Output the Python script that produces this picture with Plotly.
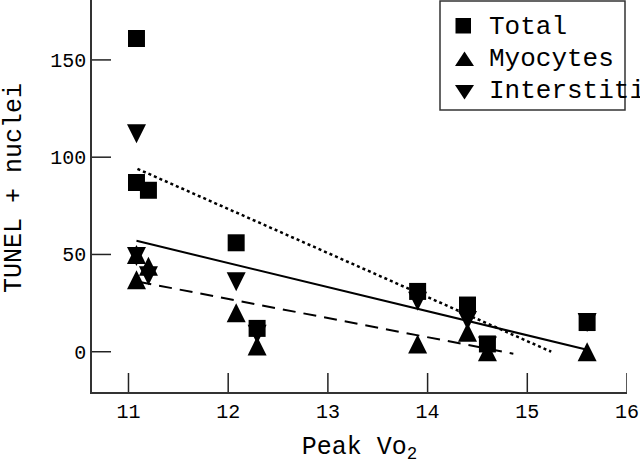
import plotly.graph_objects as go

# ---- data ----
peak_vo2 = [11.08, 11.08, 11.2, 12.08, 12.29, 13.9, 14.4, 14.6, 15.6]
total = [161, 87, 83, 56, 12, 31, 24, 4, 15]
myocytes = [50, 37, 44, 20, 3, 4, 10, 0, 0]
interstitium = [112, 49, 39, 36, 9, 26, 16, 3, 15]

# regression line end points
solid_x = [11.08, 15.6]
solid_y = [57, 1]
dashed_x = [11.1, 14.86]
dashed_y = [36, -1]
dotted_x = [11.09, 15.24]
dotted_y = [94, 0]

x_ticks = [11, 12, 13, 14, 15, 16]
y_ticks = [0, 50, 100, 150]
legend_names = ["Total", "Myocytes", "Interstitium"]

X_RANGE = [10.634, 16]
Y_RANGE = [-20.7, 180.8]

FONT = "Liberation Mono, Courier New, monospace"

# ---- layout helpers (pixel -> paper) ----
PL, PR, PT, PB = 92, 627, 0, 392
TICKLEN = 19
x_tick_len = TICKLEN * (Y_RANGE[1] - Y_RANGE[0]) / (PB - PT)
y_tick_len = TICKLEN * (X_RANGE[1] - X_RANGE[0]) / (PR - PL)


def px(x):
    return (x - PL) / (PR - PL)


def py(y):
    return (PB - y) / (PB - PT)


fig = go.Figure()

# inward tick marks built from the tick values
tx, ty = [], []
for t in x_ticks:
    tx += [t, t, None]
    ty += [Y_RANGE[0], Y_RANGE[0] + x_tick_len, None]
for t in y_ticks:
    tx += [X_RANGE[0], X_RANGE[0] + y_tick_len, None]
    ty += [t, t, None]
fig.add_trace(go.Scatter(x=tx, y=ty, mode="lines", line=dict(color="#222", width=1.5),
                         hoverinfo="skip", showlegend=False, cliponaxis=False))

fig.add_trace(go.Scatter(x=dotted_x, y=dotted_y, mode="lines",
                         line=dict(color="black", width=2.5, dash="3px,3px"),
                         showlegend=False))
fig.add_trace(go.Scatter(x=solid_x, y=solid_y, mode="lines",
                         line=dict(color="black", width=2),
                         showlegend=False))
fig.add_trace(go.Scatter(x=dashed_x, y=dashed_y, mode="lines",
                         line=dict(color="black", width=2, dash="13px,8px"),
                         showlegend=False))

TRI = 19
fig.add_trace(go.Scatter(x=peak_vo2, y=interstitium, mode="markers", name=legend_names[2],
                         marker=dict(symbol="arrow-down", size=TRI, standoff=TRI / 2,
                                     color="black", line=dict(width=0)),
                         showlegend=False))
fig.add_trace(go.Scatter(x=peak_vo2, y=myocytes, mode="markers", name=legend_names[1],
                         marker=dict(symbol="arrow-down", angle=180, size=TRI, standoff=TRI / 2,
                                     color="black", line=dict(width=0)),
                         showlegend=False))
fig.add_trace(go.Scatter(x=peak_vo2, y=total, mode="markers", name=legend_names[0],
                         marker=dict(symbol="square", size=17, color="black", line=dict(width=0)),
                         showlegend=False))

# manual legend (text runs past the box and is cut at the page edge, as in the original)
shapes = [
    dict(type="rect", xref="paper", yref="paper", x0=px(440), x1=px(625), y0=py(110), y1=py(1),
         line=dict(color="#333", width=1.5), fillcolor="white", layer="above"),
    dict(type="rect", xref="paper", yref="paper", x0=px(455.5), x1=px(471), y0=py(33.5), y1=py(18),
         line=dict(width=0), fillcolor="black", layer="above"),
    dict(type="path", xref="paper", yref="paper",
         path=f"M {px(455)},{py(66)} L {px(474)},{py(66)} L {px(464.5)},{py(51.5)} Z",
         line=dict(width=0), fillcolor="black", layer="above"),
    dict(type="path", xref="paper", yref="paper",
         path=f"M {px(455)},{py(85)} L {px(474)},{py(85)} L {px(464.5)},{py(99.5)} Z",
         line=dict(width=0), fillcolor="black", layer="above"),
]
annotations = []
for name, yc in zip(legend_names, [27, 59, 91]):
    annotations.append(dict(text=name, xref="paper", yref="paper", x=px(487), y=py(yc),
                            xanchor="left", yanchor="middle", showarrow=False,
                            font=dict(family=FONT, size=26, color="black")))
# y axis title
annotations.append(dict(text="TUNEL + nuclei", xref="paper", yref="paper", x=px(14), y=py(188),
                        xanchor="center", yanchor="middle", textangle=-90, showarrow=False,
                        font=dict(family=FONT, size=25, color="black")))

fig.update_layout(
    width=640, height=464,
    margin=dict(l=PL, r=640 - PR, t=PT, b=464 - PB, autoexpand=False),
    paper_bgcolor="white", plot_bgcolor="white",
    showlegend=False,
    shapes=shapes, annotations=annotations,
    font=dict(family=FONT, color="black"),
)
fig.update_xaxes(range=X_RANGE, tickmode="array", tickvals=x_ticks, ticks="",
                 showline=True, linecolor="#333", linewidth=1.5,
                 showgrid=False, zeroline=False, tickfont=dict(family=FONT, size=20),
                 automargin=False,
                 title=dict(text="Peak Vo<sub>2</sub>", font=dict(family=FONT, size=25), standoff=14))
fig.update_yaxes(range=Y_RANGE, tickmode="array", tickvals=y_ticks, ticks="",
                 showline=True, linecolor="#333", linewidth=1.5,
                 showgrid=False, zeroline=False, tickfont=dict(family=FONT, size=20),
                 automargin=False)

fig.write_html("out.html", config={"displayModeBar": False},
               post_script="document.body.style.margin='0px';")
